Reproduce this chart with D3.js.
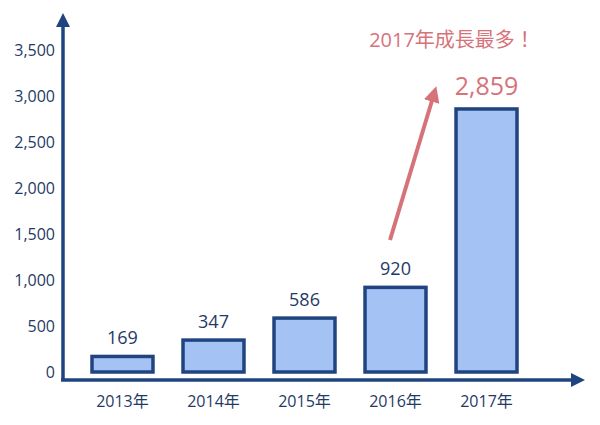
<!DOCTYPE html>
<html><head><meta charset="utf-8">
<script src="https://cdn.jsdelivr.net/npm/d3@7"></script>
<style>body{margin:0;background:#fff}</style>
</head><body>
<svg id="c" width="600" height="425"></svg>
<script>
var categories = ['2013年', '2014年', '2015年', '2016年', '2017年'];
var values = [169, 347, 586, 920, 2859];
var labels = ['169', '347', '586', '920', '2,859'];
var yTicks = [0, 500, 1000, 1500, 2000, 2500, 3000, 3500];

var svg = d3.select('#c'),
    font = '"Open Sans","Noto Sans CJK TC",sans-serif',
    axisColor = '#1f4480';

var x = d3.scaleBand().domain(categories).range([46.5, 562.5]).paddingInner(0.33).paddingOuter(0.5);
var y = d3.scaleLinear().domain([0, 3500]).range([372, 50]);

// bars
svg.selectAll('rect.bar').data(values).enter().append('rect')
    .attr('x', function (d, i) { return x(categories[i]); })
    .attr('y', function (d) { return y(d); })
    .attr('width', x.bandwidth())
    .attr('height', function (d) { return y(0) - y(d); })
    .attr('fill', '#a4c2f4').attr('stroke', axisColor).attr('stroke-width', 3.5);

// value labels
svg.selectAll('text.val').data(values).enter().append('text')
    .attr('x', function (d, i) { return x(categories[i]) + x.bandwidth() / 2; })
    .attr('y', function (d, i) { return y(d) - (i === 4 ? 14 : 12); })
    .attr('text-anchor', 'middle')
    .attr('font-family', font)
    .attr('font-size', function (d, i) { return i === 4 ? 25 : 18; })
    .attr('fill', function (d, i) { return i === 4 ? '#d6737a' : '#1f3a66'; })
    .text(function (d, i) { return labels[i]; });

// y tick labels
svg.selectAll('text.yt').data(yTicks).enter().append('text')
    .attr('x', 55).attr('y', function (d) { return y(d) + 6; })
    .attr('text-anchor', 'end').attr('font-family', font).attr('font-size', 16)
    .attr('fill', '#1f3a66').text(d3.format(','));

// x labels
svg.selectAll('text.xt').data(categories).enter().append('text')
    .attr('x', function (d) { return x(d) + x.bandwidth() / 2; })
    .attr('y', 407).attr('text-anchor', 'middle').attr('font-family', font)
    .attr('font-size', 16).attr('fill', '#1f3a66').text(function (d) { return d; });

// axes with arrows
var defs = svg.append('defs');
function marker(id, color) {
    defs.append('marker').attr('id', id).attr('viewBox', '0 0 10 10')
        .attr('refX', 5).attr('refY', 5).attr('markerWidth', 4).attr('markerHeight', 4)
        .attr('orient', 'auto').append('path').attr('d', 'M0,0L10,5L0,10Z').attr('fill', color);
}
marker('ax', axisColor);
marker('rd', '#d6737a');
svg.append('line').attr('x1', 63).attr('y1', 381).attr('x2', 63).attr('y2', 20)
    .attr('stroke', axisColor).attr('stroke-width', 3.5).attr('marker-end', 'url(#ax)');
svg.append('line').attr('x1', 61).attr('y1', 380).attr('x2', 578).attr('y2', 380)
    .attr('stroke', axisColor).attr('stroke-width', 3.5).attr('marker-end', 'url(#ax)');

// annotation
svg.append('line').attr('x1', 390).attr('y1', 240).attr('x2', 434).attr('y2', 94)
    .attr('stroke', '#d6737a').attr('stroke-width', 4).attr('marker-end', 'url(#rd)');
svg.append('text').attr('x', 452).attr('y', 47).attr('text-anchor', 'middle')
    .attr('font-family', font).attr('font-size', 20).attr('fill', '#d6737a').text('2017年成長最多！');
</script>
</body></html>
